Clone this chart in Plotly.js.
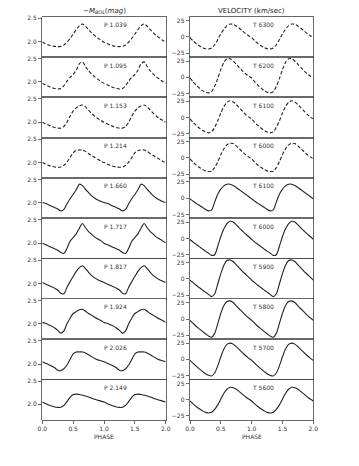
<!DOCTYPE html>
<html>
<head>
<meta charset="utf-8">
<script src="https://cdn.plot.ly/plotly-3.0.1.min.js"></script>
<style>
  html, body { margin: 0; padding: 0; background: #fff; }
  #chart { width: 359px; height: 466px; }
</style>
</head>
<body>
<div id="chart"></div>
<script>
// one pulsation cycle, phase 0 .. 0.95 (the plot shows it twice)
const phase = [0, 0.05, 0.1, 0.15, 0.2, 0.25, 0.3, 0.35, 0.4, 0.45,
               0.5, 0.55, 0.6, 0.65, 0.7, 0.75, 0.8, 0.85, 0.9, 0.95];

const periodLabels = ["P 1.039", "P 1.095", "P 1.153", "P 1.214", "P 1.660",
                      "P 1.717", "P 1.817", "P 1.924", "P 2.026", "P 2.149"];
const tempLabels = ["T 6300", "T 6200", "T 6100", "T 6000", "T 6100",
                    "T 6000", "T 5900", "T 5800", "T 5700", "T 5600"];
const dashed = [true, true, true, true, false, false, false, false, false, false];

// -M_bol (mag)
const mag1039 = [1.99, 1.96, 1.93, 1.91, 1.90, 1.895, 1.90, 1.93, 1.99, 2.07, 2.16, 2.26, 2.34, 2.38, 2.33, 2.26, 2.19, 2.13, 2.08, 2.03];
const mag1095 = [1.97, 1.94, 1.91, 1.88, 1.86, 1.85, 1.86, 1.92, 2.02, 2.10, 2.16, 2.25, 2.39, 2.43, 2.33, 2.24, 2.17, 2.11, 2.06, 2.01];
const mag1153 = [2.00, 1.97, 1.94, 1.91, 1.89, 1.875, 1.875, 1.91, 2.00, 2.13, 2.24, 2.31, 2.35, 2.37, 2.33, 2.26, 2.19, 2.13, 2.08, 2.04];
const mag1214 = [2.00, 1.97, 1.94, 1.92, 1.905, 1.90, 1.905, 1.94, 2.01, 2.11, 2.21, 2.26, 2.27, 2.27, 2.24, 2.19, 2.15, 2.11, 2.07, 2.03];
const mag1660 = [2.01, 1.99, 1.96, 1.93, 1.90, 1.87, 1.83, 1.86, 1.98, 2.09, 2.18, 2.28, 2.40, 2.37, 2.29, 2.22, 2.15, 2.10, 2.06, 2.03];
const mag1717 = [2.00, 1.97, 1.94, 1.91, 1.88, 1.85, 1.80, 1.78, 1.89, 2.04, 2.12, 2.20, 2.32, 2.42, 2.33, 2.25, 2.19, 2.13, 2.09, 2.05];
const mag1817 = [2.02, 1.99, 1.96, 1.93, 1.90, 1.86, 1.79, 1.78, 1.92, 2.04, 2.15, 2.26, 2.34, 2.38, 2.32, 2.24, 2.17, 2.12, 2.08, 2.05];
const mag1924 = [2.03, 2.01, 1.98, 1.95, 1.91, 1.86, 1.80, 1.85, 2.00, 2.12, 2.22, 2.26, 2.30, 2.31, 2.27, 2.22, 2.18, 2.14, 2.10, 2.07];
const mag2026 = [2.05, 2.02, 1.99, 1.96, 1.92, 1.87, 1.86, 1.90, 1.98, 2.10, 2.22, 2.26, 2.26, 2.26, 2.24, 2.20, 2.16, 2.12, 2.09, 2.07];
const mag2149 = [2.05, 2.02, 1.99, 1.965, 1.945, 1.935, 1.94, 1.98, 2.06, 2.15, 2.21, 2.22, 2.21, 2.20, 2.18, 2.16, 2.13, 2.11, 2.09, 2.07];

// velocity (km/sec)
const vel6300 = [-1, -6, -10, -13.5, -16, -18, -18.5, -17, -12, -4, 5, 12, 17.5, 20, 19.5, 17, 13.5, 9.5, 5.5, 2];
const vel6200 = [-1, -7, -12, -16.5, -20.5, -23, -24, -22, -14, -2, 12, 23, 28.5, 28.5, 25, 20, 15, 10, 5.5, 2];
const vel6100a = [-2, -7.5, -12, -16, -19.5, -22, -23.5, -22, -15, -5, 7, 17, 23.5, 26, 24, 20, 15, 10, 5, 1];
const vel6000a = [-1.5, -6.5, -11, -14.5, -17.5, -20, -21, -20.5, -15, -6, 5, 14, 20, 22.5, 22, 18.5, 14, 9.5, 5, 1.5];
const vel6100b = [-1, -4.5, -8, -11, -14, -17, -19.5, -18, -6, 6, 14, 19, 21.5, 21.5, 19.5, 16.5, 13, 9.5, 6, 2.5];
const vel6000b = [-1.5, -5.5, -9, -12.5, -16, -19.5, -22.5, -26, -25, -12, 3, 15, 23, 26.5, 25.5, 21, 16, 11.5, 7, 3];
const vel5900 = [-2, -6, -10, -13.5, -17, -20.5, -24, -27.5, -23, -8, 8, 21, 28, 29, 26.5, 21.5, 16.5, 11.5, 7, 2.5];
const vel5800 = [-2, -6.5, -11, -15, -19, -22.5, -26, -28, -22, -7, 9, 21, 27, 28, 25.5, 20.5, 15.5, 11, 6, 2];
const vel5700 = [-1.5, -6, -10.5, -14.5, -18.5, -22, -24.5, -25.5, -21, -10, 4, 16, 23, 25, 23.5, 19.5, 15, 10.5, 6, 2];
const vel5600 = [-2, -6.5, -10.5, -14, -17, -19.5, -20.5, -19.5, -15, -8, 1, 10, 16, 19, 18.5, 16, 12.5, 8.5, 4.5, 1];

const magSeries = [mag1039, mag1095, mag1153, mag1214, mag1660, mag1717, mag1817, mag1924, mag2026, mag2149];
const velSeries = [vel6300, vel6200, vel6100a, vel6000a, vel6100b, vel6000b, vel5900, vel5800, vel5700, vel5600];

// geometry in pixels
const W = 359, H = 466;
const colL = [42.3, 165.7], colR = [190, 313.3];
const top0 = 16.7, panelH = 40.3;
const fnt = "DejaVu Sans, sans-serif";
const lineCol = "#222";
const frameCol = "#444";
const tickSize = 6;

const xs = phase.concat(phase.map(p => p + 1), [2]);
const twice = v => v.concat(v, [v[0]]);

const traces = [];
const layout = {
	width: W, height: H,
	margin: { l: 0, r: 0, t: 0, b: 0 },
	paper_bgcolor: "#fff", plot_bgcolor: "#fff",
	showlegend: false,
	font: { family: fnt, size: tickSize, color: "#222" },
	annotations: [],
};

function addPanel(n, col, row, ys, isDash, label, yRange, yTicks, yText, bottom) {
	const yt = top0 + panelH * row;
	const xa = n === 1 ? "xaxis" : "xaxis" + n;
	const ya = n === 1 ? "yaxis" : "yaxis" + n;
	const xr = n === 1 ? "x" : "x" + n;
	const yr = n === 1 ? "y" : "y" + n;
	layout[xa] = {
		domain: [col[0] / W, col[1] / W],
		anchor: yr,
		range: [0, 2],
		showline: true, mirror: true, linecolor: frameCol, linewidth: 0.8,
		showgrid: false, zeroline: false,
		ticks: bottom ? "outside" : "",
		ticklen: 3.5, tickwidth: 0.8, tickcolor: frameCol,
		showticklabels: bottom,
		tickvals: [0, 0.5, 1, 1.5, 2],
		ticktext: ["0.0", "0.5", "1.0", "1.5", "2.0"],
		tickfont: { family: fnt, size: tickSize, color: "#333" },
	};
	layout[ya] = {
		domain: [1 - (yt + panelH) / H, 1 - yt / H],
		anchor: xr,
		range: yRange,
		showline: true, mirror: true, linecolor: frameCol, linewidth: 0.8,
		showgrid: false, zeroline: false,
		ticks: "outside", ticklen: 3.5, tickwidth: 0.8, tickcolor: frameCol,
		tickvals: yTicks,
		ticktext: yText,
		tickfont: { family: fnt, size: tickSize, color: "#333" },
	};
	traces.push({
		x: xs, y: twice(ys), xaxis: xr, yaxis: yr,
		type: "scatter", mode: "lines", hoverinfo: "skip",
		line: { color: lineCol, width: 1.1, shape: "spline", smoothing: 0.8, dash: isDash ? "3.5px,2px" : "solid" },
	});
	layout.annotations.push({
		xref: xr, yref: yr + " domain", x: 1.18, y: 0.8,
		text: label, showarrow: false,
		font: { family: fnt, size: tickSize, color: "#333" },
		xanchor: "center", yanchor: "middle",
	});
}

for (let i = 0; i < 10; i++) {
	addPanel(i + 1, colL, i, magSeries[i], dashed[i], periodLabels[i],
		[1.672, 2.535], [2.0, 2.5], ["2.0", "2.5"], i === 9);
	addPanel(i + 11, colR, i, velSeries[i], dashed[i], tempLabels[i],
		[-30.8, 31.2], [-25, 0, 25], ["\u221225", "0", "25"], i === 9);
}

layout.annotations.push(
	{ xref: "paper", yref: "paper", x: (colL[0] + colL[1]) / 2 / W, y: 1 - 10.7 / H,
	  text: "\u2212<i>M</i><sub><i>BOL</i></sub>(<i>mag</i>)", showarrow: false,
	  font: { family: fnt, size: 7, color: "#222" }, xanchor: "center", yanchor: "middle" },
	{ xref: "paper", yref: "paper", x: (colR[0] + colR[1]) / 2 / W, y: 1 - 10.7 / H,
	  text: "VELOCITY (km/sec)", showarrow: false,
	  font: { family: fnt, size: 7, color: "#222" }, xanchor: "center", yanchor: "middle" },
	{ xref: "paper", yref: "paper", x: (colL[0] + colL[1]) / 2 / W, y: 1 - 436 / H,
	  text: "PHASE", showarrow: false,
	  font: { family: fnt, size: tickSize, color: "#333" }, xanchor: "center", yanchor: "middle" },
	{ xref: "paper", yref: "paper", x: (colR[0] + colR[1]) / 2 / W, y: 1 - 436 / H,
	  text: "PHASE", showarrow: false,
	  font: { family: fnt, size: tickSize, color: "#333" }, xanchor: "center", yanchor: "middle" }
);

Plotly.newPlot("chart", traces, layout, { staticPlot: true, displayModeBar: false });
</script>
</body>
</html>
